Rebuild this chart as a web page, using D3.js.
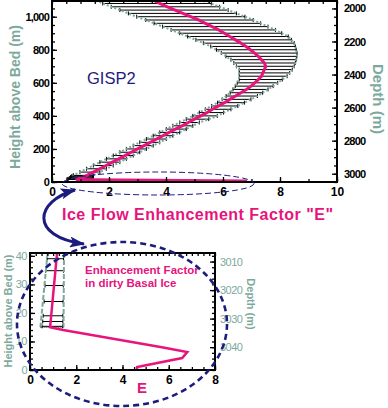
<!DOCTYPE html>
<meta charset="utf-8">
<style>
    body {
        margin: 0;
        background: #fff;
        font-family: "Liberation Sans", Arial, sans-serif;
    }
</style>

<body>
    <script src="https://d3js.org/d3.v7.min.js"></script>

    <script>

        // ---- data ----
        // main profile, height above bed (m)
        var heights = [1100, 1080, 1060, 1040, 1020, 1000, 980, 960, 940, 920, 900, 880, 860, 840, 820, 800,
            780, 760, 740, 720, 700, 680, 660, 640, 620, 600, 580, 560, 540, 520, 500, 480, 460, 440, 420,
            400, 380, 360, 340, 320, 300, 280, 260, 240, 220, 200, 180, 160, 140, 120, 100, 80, 60, 40];
        // enhancement factor E
        var eMid = [3.55, 3.78, 4.05, 4.32, 4.59, 4.87, 5.15, 5.38, 5.62, 5.85, 6.05, 6.24, 6.44, 6.63, 6.81, 6.96,
            7.11, 7.24, 7.35, 7.45, 7.50, 7.45, 7.40, 7.35, 7.24, 7.11, 6.99, 6.82, 6.63, 6.44, 6.24, 6.05, 5.84, 5.63, 5.44,
            5.22, 5.00, 4.78, 4.56, 4.33, 4.11, 3.89, 3.67, 3.45, 3.23, 3.00, 2.78, 2.56, 2.34, 2.12, 1.90, 1.67, 1.45, 1.23];
        var eLow = [1.54, 1.78, 2.08, 2.38, 2.68, 2.97, 3.29, 3.58, 3.88, 4.18, 4.48, 4.76, 5.05, 5.31, 5.57, 5.77,
            5.94, 6.10, 6.28, 6.38, 6.47, 6.57, 6.57, 6.57, 6.57, 6.50, 6.43, 6.35, 6.25, 6.11, 5.97, 5.81, 5.60, 5.38, 5.17,
            4.94, 4.71, 4.48, 4.24, 4.01, 3.78, 3.55, 3.31, 3.08, 2.85, 2.61, 2.38, 2.15, 1.91, 1.68, 1.45, 1.21, 0.98, 0.75];
        var eHigh = [5.35, 5.59, 5.88, 6.18, 6.47, 6.77, 7.06, 7.32, 7.58, 7.84, 8.06, 8.29, 8.40, 8.50, 8.54, 8.57,
            8.60, 8.59, 8.57, 8.54, 8.50, 8.43, 8.34, 8.25, 8.08, 7.92, 7.76, 7.58, 7.39, 7.21, 6.98, 6.75, 6.52, 6.28, 6.02,
            5.80, 5.50, 5.17, 4.94, 4.71, 4.48, 4.24, 4.01, 3.78, 3.55, 3.31, 3.08, 2.85, 2.61, 2.38, 2.15, 1.91, 1.68, 1.45];

        // dirty basal ice
        var basalH = [41, 15, 14, 8, 6.3, 4.2, 1, 0];
        var basalE = [1.17, 0.87, 1.43, 5.7, 6.8, 6.58, 4.63, 4.63];
        var basalBarH = [39, 34.8, 29.6, 24, 19, 17, 15.3];
        var basalBarLo = [0.74, 0.68, 0.65, 0.61, 0.57, 0.55, 0.52];
        var basalBarHi = [1.45, 1.45, 1.44, 1.43, 1.42, 1.42, 1.41];
        var basalEnvH = [41, 15];
        var basalEnvLo = [0.76, 0.45];
        var basalEnvHi = [1.47, 1.45];

        // tick labels
        var eTicksTop = [0, 2, 4, 6, 8, 10];
        var hTicksTop = [0, 200, 400, 600, 800, 1000];
        var depthTicksTop = [2000, 2200, 2400, 2600, 2800, 3000];
        var eTicksBot = [0, 2, 4, 6, 8];
        var hTicksBot = [0, 10, 20, 30, 40];
        var depthTicksBot = [3010, 3020, 3030, 3040];

        var bedDepthTop = 3050,
            bedDepthBot = 3048;

        var pink = "#e6147c",
            navy = "#1c1c7e",
            sage = "#7da99d";

        var svg = d3.select("body").append("svg")
            .attr("width", 388)
            .attr("height", 408);

        svg.append("defs").append("marker")
            .attr("id", "head")
            .attr("markerUnits", "userSpaceOnUse")
            .attr("viewBox", "0 0 14 10")
            .attr("refX", 13).attr("refY", 5)
            .attr("markerWidth", 16).attr("markerHeight", 11)
            .attr("orient", "auto-start-reverse")
            .append("path")
            .attr("d", "M0,0L14,5L0,10L3,5Z")
            .attr("fill", navy);

        function range(a, b, s) { return d3.range(a, b + s / 2, s); }

        // draws frame + inward ticks
        function frame(g, x, y, d, o) {
            var x0 = x.range()[0], x1 = x.range()[1], y0 = y.range()[0], y1 = y.range()[1];

            g.append("g").attr("transform", "translate(0," + y0 + ")")
                .call(d3.axisBottom(x).tickValues(o.eMinor).tickSize(-3).tickFormat(""))
                .call(function (s) { s.select(".domain").remove(); });
            g.append("g").attr("transform", "translate(0," + y1 + ")")
                .call(d3.axisTop(x).tickValues(o.eMinorTop).tickSize(-3).tickFormat(""))
                .call(function (s) { s.select(".domain").remove(); });
            g.append("g").attr("transform", "translate(" + x0 + ",0)")
                .call(d3.axisLeft(y).tickValues(o.hMinor).tickSize(-3).tickFormat(""))
                .call(function (s) { s.select(".domain").remove(); });
            g.append("g").attr("transform", "translate(" + x1 + ",0)")
                .call(d3.axisRight(d).tickValues(o.dMinor).tickSize(-3).tickFormat(""))
                .call(function (s) { s.select(".domain").remove(); });

            var bx = g.append("g").attr("transform", "translate(0," + y0 + ")")
                .call(d3.axisBottom(x).tickValues(o.eTicks).tickSize(-5).tickPadding(o.xPad).tickFormat(d3.format("d")));
            bx.select(".domain").remove();
            bx.selectAll("text").attr("font-size", o.xFont)
                .attr("font-weight", "bold").attr("fill", "#000");

            var ly = g.append("g").attr("transform", "translate(" + x0 + ",0)")
                .call(d3.axisLeft(y).tickValues(o.hTicks).tickSize(-5).tickPadding(3));
            ly.select(".domain").remove();
            ly.selectAll("text").attr("font-size", o.yFont).attr("font-weight", o.yWeight)
                .attr("fill", o.yColor).attr("letter-spacing", o.ls);

            var ry = g.append("g").attr("transform", "translate(" + x1 + ",0)")
                .call(d3.axisRight(d).tickValues(o.dTicks).tickSize(-5).tickPadding(o.rPad).tickFormat(d3.format("d")));
            ry.select(".domain").remove();
            ry.selectAll("text").attr("font-size", o.yFont).attr("font-weight", o.yWeight)
                .attr("fill", o.yColor).attr("letter-spacing", o.ls);

            g.selectAll(".tick line").attr("stroke", "#000").attr("stroke-width", 1.3);
            g.selectAll("g").attr("font-family", null);

            g.append("rect")
                .attr("x", x0).attr("y", y1)
                .attr("width", x1 - x0).attr("height", y0 - y1)
                .attr("fill", "none").attr("stroke", "#000").attr("stroke-width", 2);
        }

        // ================= top chart =================
        var xT = d3.scaleLinear().domain([0, 10]).range([52, 337]);
        var yT = d3.scaleLinear().domain([0, 1095]).range([182, 1]);
        var dT = d3.scaleLinear().domain([bedDepthTop, bedDepthTop - 1095]).range([182, 1]);

        var gTop = svg.append("g");
        gTop.append("clipPath").attr("id", "clipTop").append("rect")
            .attr("x", 52).attr("y", 1).attr("width", 285).attr("height", 181);
        var plotT = gTop.append("g").attr("clip-path", "url(#clipTop)");

        var main = heights.map(function (h, i) { return { h: h, e: eMid[i], lo: eLow[i], hi: eHigh[i] }; });
        var basal = basalH.map(function (h, i) { return { h: h, e: basalE[i] }; });
        var bars = basalBarH.map(function (h, i) { return { h: h, lo: basalBarLo[i], hi: basalBarHi[i] }; });

        function drawBars(g, data, x, y, cap) {
            var b = g.selectAll(null).data(data).enter().append("g")
                .attr("stroke", "#000").attr("stroke-width", 1);
            b.append("line")
                .attr("x1", function (d) { return x(d.lo); }).attr("x2", function (d) { return x(d.hi); })
                .attr("y1", function (d) { return y(d.h); }).attr("y2", function (d) { return y(d.h); });
            b.append("line")
                .attr("x1", function (d) { return x(d.lo); }).attr("x2", function (d) { return x(d.lo); })
                .attr("y1", function (d) { return y(d.h) - cap; }).attr("y2", function (d) { return y(d.h) + cap; });
            b.append("line")
                .attr("x1", function (d) { return x(d.hi); }).attr("x2", function (d) { return x(d.hi); })
                .attr("y1", function (d) { return y(d.h) - cap; }).attr("y2", function (d) { return y(d.h) + cap; });
        }

        drawBars(plotT, main, xT, yT, 2);
        drawBars(plotT, bars, xT, yT, 2);

        var envT = function (k) {
            return d3.line().x(function (d) { return xT(d[k]); }).y(function (d) { return yT(d.h); });
        };
        ["lo", "hi"].forEach(function (k) {
            plotT.append("path").datum(main).attr("d", envT(k))
                .attr("fill", "none").attr("stroke", sage).attr("stroke-width", 2)
                .attr("stroke-dasharray", "2,2");
        });

        var pinkT = main.map(function (d) { return { h: d.h, e: d.e }; })
            .concat(basal.filter(function (d) { return d.h < 40; }));
        plotT.append("path").datum(pinkT)
            .attr("d", d3.line().x(function (d) { return xT(d.e); }).y(function (d) { return yT(d.h); }))
            .attr("fill", "none").attr("stroke", pink).attr("stroke-width", 3)
            .attr("stroke-linejoin", "round");

        frame(gTop, xT, yT, dT, {
            eTicks: eTicksTop, eMinor: range(0, 10, 1), eMinorTop: range(0, 10, 0.5),
            hTicks: hTicksTop, hMinor: range(0, 1050, 50),
            dTicks: depthTicksTop, dMinor: range(2000, 3050, 50),
            xFont: 12, xPad: 5, yFont: 11, yWeight: "bold", yColor: "#000", ls: -0.8, rPad: 7
        });

        gTop.append("text").attr("x", 87).attr("y", 84)
            .attr("font-size", 16.5).attr("fill", navy).text("GISP2");

        gTop.append("text")
            .attr("transform", "translate(20,97) rotate(-90)")
            .attr("text-anchor", "middle")
            .attr("font-size", 14).attr("font-weight", "bold").attr("fill", sage)
            .text("Height above Bed (m)");

        gTop.append("text")
            .attr("transform", "translate(373,99) rotate(90)")
            .attr("text-anchor", "middle")
            .attr("font-size", 15).attr("font-weight", "bold").attr("fill", sage)
            .text("Depth (m)");

        svg.append("text").attr("x", 62).attr("y", 220)
            .attr("textLength", 271).attr("lengthAdjust", "spacing")
            .attr("font-size", 16).attr("font-weight", "bold").attr("fill", pink)
            .text("Ice Flow Enhancement Factor \"E\"");

        // ================= bottom chart =================
        var xB = d3.scaleLinear().domain([0, 8]).range([30, 215]);
        var yB = d3.scaleLinear().domain([0, 41]).range([370, 253]);
        var dB = d3.scaleLinear().domain([bedDepthBot, bedDepthBot - 41]).range([370, 253]);

        var gBot = svg.append("g");

        drawBars(gBot, bars, xB, yB, 2);

        var envB = basalEnvH.map(function (h, i) { return { h: h, lo: basalEnvLo[i], hi: basalEnvHi[i] }; });
        ["lo", "hi"].forEach(function (k) {
            gBot.append("path").datum(envB)
                .attr("d", d3.line().x(function (d) { return xB(d[k]); }).y(function (d) { return yB(d.h); }))
                .attr("fill", "none").attr("stroke", sage).attr("stroke-width", 2)
                .attr("stroke-dasharray", "5,2");
        });
        gBot.append("line")
            .attr("x1", xB(basalEnvLo[1])).attr("x2", xB(basalEnvHi[1]))
            .attr("y1", yB(15)).attr("y2", yB(15))
            .attr("stroke", "#000").attr("stroke-width", 1).attr("stroke-dasharray", "1,1");

        gBot.append("path").datum(basal)
            .attr("d", d3.line().x(function (d) { return xB(d.e); }).y(function (d) { return yB(d.h); }))
            .attr("fill", "none").attr("stroke", pink).attr("stroke-width", 2.5)
            .attr("stroke-linejoin", "miter");

        frame(gBot, xB, yB, dB, {
            eTicks: eTicksBot, eMinor: range(0, 8, 0.5), eMinorTop: range(0, 8, 0.25),
            hTicks: hTicksBot, hMinor: range(0, 40, 2),
            dTicks: depthTicksBot, dMinor: range(3008, 3048, 2),
            xFont: 12, xPad: 5, yFont: 11, yWeight: "normal", yColor: sage, ls: -0.5, rPad: 5
        });

        gBot.append("text").attr("x", 85).attr("y", 274)
            .attr("font-size", 11.5).attr("font-weight", "bold").attr("fill", pink)
            .text("Enhancement Factor");
        gBot.append("text").attr("x", 85).attr("y", 287)
            .attr("font-size", 11.5).attr("font-weight", "bold").attr("fill", pink)
            .text("in dirty Basal Ice");
        gBot.append("text").attr("x", 137).attr("y", 393)
            .attr("font-size", 15).attr("font-weight", "bold").attr("fill", pink)
            .text("E");

        gBot.append("text")
            .attr("transform", "translate(12,311) rotate(-90)")
            .attr("text-anchor", "middle")
            .attr("font-size", 11).attr("font-weight", "bold").attr("fill", sage)
            .text("Height above Bed (m)");
        gBot.append("text")
            .attr("transform", "translate(247,304) rotate(90)")
            .attr("text-anchor", "middle")
            .attr("font-size", 11).attr("font-weight", "bold").attr("fill", sage)
            .text("Depth (m)");

        // ================= annotations =================
        svg.append("ellipse")
            .attr("cx", 158).attr("cy", 183.5).attr("rx", 96).attr("ry", 11.5)
            .attr("fill", "none").attr("stroke", navy).attr("stroke-width", 1)
            .attr("stroke-dasharray", "6,3");

        svg.append("ellipse")
            .attr("cx", 122).attr("cy", 324).attr("rx", 105).attr("ry", 82)
            .attr("fill", "none").attr("stroke", navy).attr("stroke-width", 2.6)
            .attr("stroke-dasharray", "6,4");

        svg.append("path")
            .attr("d", "M75,190 C36,201 28,236 84,244")
            .attr("fill", "none").attr("stroke", navy).attr("stroke-width", 3)
            .attr("marker-start", "url(#head)").attr("marker-end", "url(#head)");

    </script>

</body>

</html>
